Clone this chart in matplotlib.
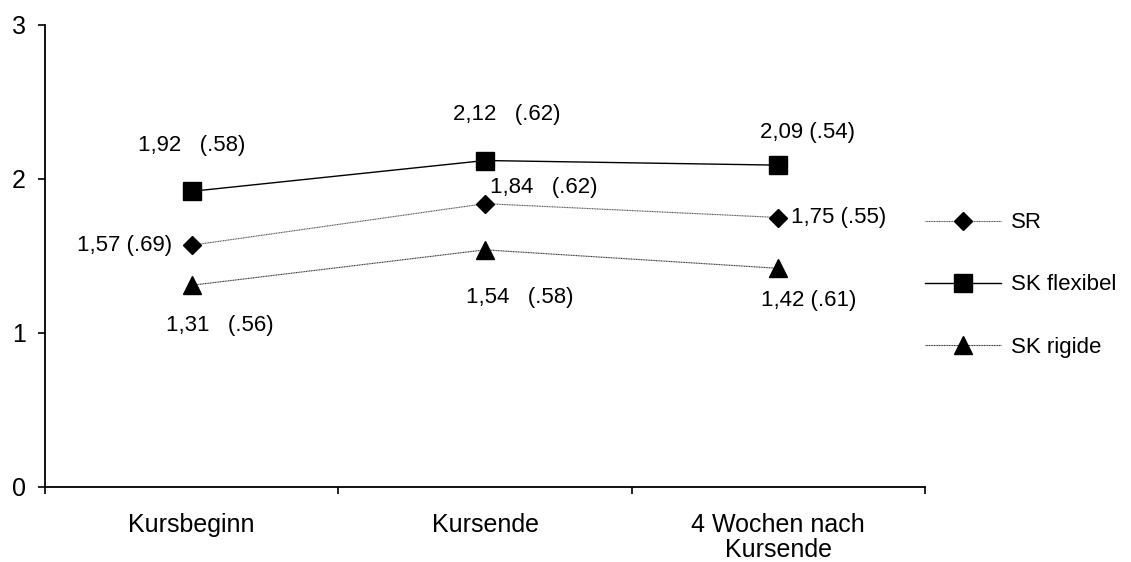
import matplotlib
matplotlib.use("Agg")
import matplotlib.pyplot as plt

plt.rcParams['font.family'] = ['Liberation Sans', 'DejaVu Sans']

categories = ["Kursbeginn", "Kursende", "4 Wochen nach\nKursende"]
sr = [1.57, 1.84, 1.75]
sk_flex = [1.92, 2.12, 2.09]
sk_rig = [1.31, 1.54, 1.42]
sr_labels = ["1,57 (.69)", "1,84   (.62)", "1,75 (.55)"]
flex_labels = ["1,92   (.58)", "2,12   (.62)", "2,09 (.54)"]
rig_labels = ["1,31   (.56)", "1,54   (.58)", "1,42 (.61)"]

fig = plt.figure(figsize=(11.31, 5.62), dpi=100)
ax = fig.add_axes([45/1131, 1-487/562, 880/1131, 462/562])

x = list(range(len(categories)))
l1, = ax.plot(x, sr, color='#555555', lw=0.8, ls=(0, (1, 0.5)), marker='D', ms=9.5,
              mfc='black', mec='black', label='SR')
l2, = ax.plot(x, sk_flex, color='black', lw=1.0, marker='s', ms=12.5,
              mfc='black', mec='black', label='SK flexibel')
l3, = ax.plot(x, sk_rig, color='#333333', lw=0.8, ls=(0, (1, 0.5)), marker='^', ms=12.5,
              mfc='black', mec='black', label='SK rigide')

fs = 16
tfs = 18
flex_off = [(0, 46, 'center'), (22, 46, 'center'), (29, 33, 'center')]
for i, (dx, dy, ha) in enumerate(flex_off):
    ax.annotate(flex_labels[i], (x[i], sk_flex[i]), xytext=(dx, dy), textcoords='offset pixels',
                ha=ha, va='center', fontsize=fs)
sr_off = [(-20, 0, 'right'), (5, 16, 'left'), (13, 0, 'left')]
for i, (dx, dy, ha) in enumerate(sr_off):
    ax.annotate(sr_labels[i], (x[i], sr[i]), xytext=(dx, dy), textcoords='offset pixels',
                ha=ha, va='center', fontsize=fs)
rig_off = [(28, -40, 'center'), (35, -48, 'center'), (30, -32, 'center')]
for i, (dx, dy, ha) in enumerate(rig_off):
    ax.annotate(rig_labels[i], (x[i], sk_rig[i]), xytext=(dx, dy), textcoords='offset pixels',
                ha=ha, va='center', fontsize=fs)

ax.set_xlim(-0.5, 2.5)
ax.set_ylim(0, 3)
ax.set_yticks([0, 1, 2, 3])
ax.set_yticklabels(['0', '1', '2', '3'], fontsize=tfs)
ax.set_xticks([-0.5, 0.5, 1.5, 2.5])
ax.set_xticklabels([])
ax.set_xticks(x, minor=True)
ax.set_xticklabels(categories, minor=True, fontsize=tfs, linespacing=1.05)
ax.tick_params(axis='x', which='minor', length=0, pad=19)
ax.tick_params(axis='both', which='major', length=5, width=1.2, direction='out')
ax.tick_params(axis='y', pad=9)
for s in ['top', 'right']:
    ax.spines[s].set_visible(False)
for s in ['left', 'bottom']:
    ax.spines[s].set_linewidth(1.3)

fig.legend(handles=[l1, l2, l3], loc='center left', bbox_to_anchor=(925/1131, 1-285/562),
           frameon=False, fontsize=fs, handlelength=3.4, handletextpad=0.45,
           labelspacing=1.85, borderpad=0, borderaxespad=0)

fig.savefig('out.png', dpi=100)
